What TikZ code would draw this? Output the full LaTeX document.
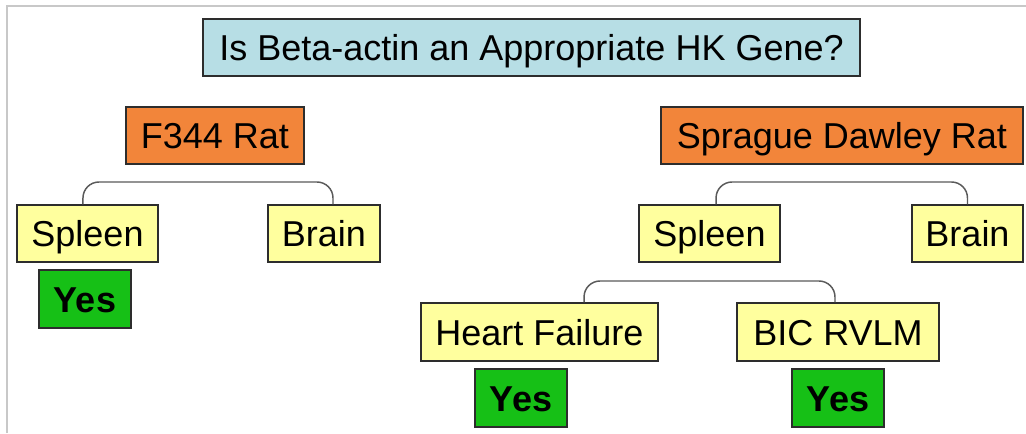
\documentclass[tikz,border=0pt]{standalone}
\usepackage{fontspec}
\setmainfont{Liberation Sans}
\usetikzlibrary{calc}
\definecolor{titlefill}{RGB}{183,222,229}
\definecolor{orangefill}{RGB}{242,133,58}
\definecolor{yellowfill}{RGB}{255,255,158}
\definecolor{greenfill}{RGB}{22,192,22}
\definecolor{boxline}{RGB}{45,45,45}
\definecolor{bracketline}{RGB}{90,90,90}
\definecolor{framegray}{RGB}{200,200,200}
\tikzset{
  box/.style={draw=boxline, line width=1.1pt, inner sep=0pt, text height=19.5pt, text depth=0pt,
    font=\fontsize{27}{32}\selectfont, align=center},
  titlebox/.style={box, fill=titlefill},
  ratbox/.style={box, fill=orangefill},
  tissuebox/.style={box, fill=yellowfill},
  yesbox/.style={box, fill=greenfill, font=\fontsize{27}{32}\selectfont\bfseries},
  bracket/.style={draw=bracketline, line width=1.1pt, rounded corners=12pt},
}
\begin{document}
\begin{tikzpicture}[x=0.75pt, y=-0.75pt]
\useasboundingbox (0,0) rectangle (1026,433);
\fill[white] (0,0) rectangle (1026,433);
\coordinate (fr0) at (7,433);
\coordinate (fr1) at (7,6);
\coordinate (fr2) at (1026,6);
\draw[framegray, line width=1.1pt] (fr0) -- (fr1) -- (fr2);

\node[titlebox, minimum width=492.75pt, minimum height=42.75pt] (title) at (531.5,47.5) {Is Beta-actin an Appropriate HK Gene?};

\node[ratbox, minimum width=133.5pt, minimum height=42.75pt] (f344) at (215,135.5) {F344 Rat};
\node[ratbox, minimum width=271.5pt, minimum height=42.75pt] (sd) at (842,135.5) {Sprague Dawley Rat};

\node[tissuebox, minimum width=105.75pt, minimum height=42.75pt] (spL) at (87.5,233.5) {Spleen};
\node[tissuebox, minimum width=84pt, minimum height=42.75pt] (brL) at (324,233.5) {Brain};
\node[tissuebox, minimum width=105.75pt, minimum height=42.75pt] (spR) at (709.5,233.5) {Spleen};
\node[tissuebox, minimum width=83.25pt, minimum height=42.75pt] (brR) at (967.5,233.5) {Brain};

\node[yesbox, minimum width=69pt, minimum height=43.5pt] (yesL) at (85,299) {Yes};

\node[tissuebox, minimum width=177.75pt, minimum height=43.5pt] (hf) at (539.5,332) {Heart Failure};
\node[tissuebox, minimum width=151.5pt, minimum height=43.5pt] (bic) at (838,332) {BIC RVLM};

\node[yesbox, minimum width=69pt, minimum height=43.5pt] (yesHF) at (521,398) {Yes};
\node[yesbox, minimum width=69pt, minimum height=43.5pt] (yesBIC) at (838,398) {Yes};

\coordinate (bkF) at (0,182);
\coordinate (bkS) at (0,182);
\coordinate (bkH) at (0,281);
\draw[bracket] ([xshift=-3.4pt]spL.north) -- ([xshift=-3.4pt]spL.north |- bkF) -| ([xshift=6.75pt]brL.north);
\draw[bracket] ([xshift=4.9pt]spR.north) -- ([xshift=4.9pt]spR.north |- bkS) -| ([xshift=0pt]brR.north);
\draw[bracket] ([xshift=33.4pt]hf.north) -- ([xshift=33.4pt]hf.north |- bkH) -| ([xshift=-2.25pt]bic.north);
\end{tikzpicture}
\end{document}
